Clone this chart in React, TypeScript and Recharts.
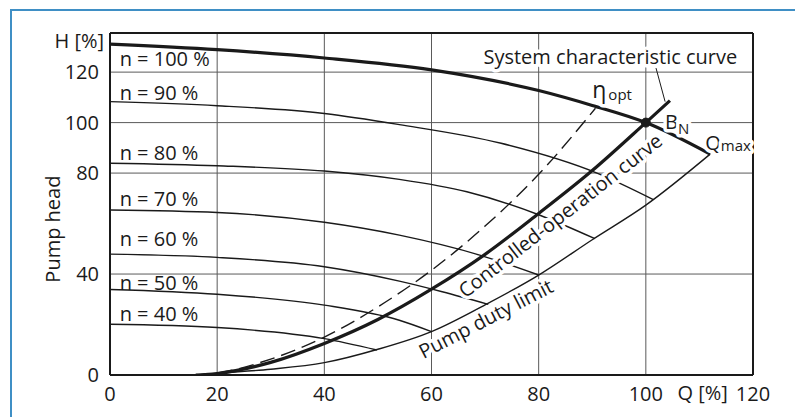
import React from 'react';
import {
  ComposedChart,
  Line,
  XAxis,
  YAxis,
  CartesianGrid,
  ReferenceDot,
  ReferenceLine,
} from 'recharts';

const FONT = '"Open Sans", "Noto Sans", sans-serif';
const INK = '#1a1a1a';
const FS = 20;

// Axis ticks
const xTicks = [0, 20, 40, 60, 80, 100, 120];
const yTicks = [0, 40, 80, 100, 120];

// Pump head curves at different speeds (Q %, H %)
const speed100 = [
  { x: 0, y: 131.1 }, { x: 20, y: 128.9 }, { x: 40, y: 125.6 }, { x: 60, y: 120.9 },
  { x: 80, y: 112.7 }, { x: 90, y: 106.8 }, { x: 100, y: 100 }, { x: 112, y: 87.5 },
];
const speed90 = [
  { x: 0, y: 108.3 }, { x: 20, y: 106.7 }, { x: 40, y: 103.6 }, { x: 54, y: 99.2 },
  { x: 73, y: 91.8 }, { x: 91, y: 79.9 }, { x: 101.4, y: 69.5 },
];
const speed80 = [
  { x: 0, y: 83.9 }, { x: 20, y: 82.9 }, { x: 40, y: 80.8 }, { x: 54, y: 77.5 },
  { x: 66.6, y: 72.6 }, { x: 80, y: 63.5 }, { x: 90.5, y: 54 },
];
const speed70 = [
  { x: 0, y: 65.4 }, { x: 20, y: 64.4 }, { x: 40, y: 60.5 }, { x: 54, y: 55.4 },
  { x: 69, y: 47.5 }, { x: 80, y: 39.6 },
];
const speed60 = [
  { x: 0, y: 47.9 }, { x: 20, y: 46.6 }, { x: 40, y: 42.9 }, { x: 54, y: 37.2 },
  { x: 62, y: 33 }, { x: 70.6, y: 28 },
];
const speed50 = [
  { x: 0, y: 33.9 }, { x: 20, y: 32 }, { x: 40, y: 27.7 }, { x: 54, y: 21.7 }, { x: 60, y: 17.2 },
];
const speed40 = [
  { x: 0, y: 20.1 }, { x: 20, y: 18.8 }, { x: 40, y: 14.4 }, { x: 49.8, y: 9.9 },
];

// Controlled-operation / system characteristic curve
const controlled = [
  { x: 16, y: 0 }, { x: 20, y: 0.6 }, { x: 30, y: 5 }, { x: 40, y: 12.5 }, { x: 50, y: 22 },
  { x: 60, y: 34 }, { x: 70, y: 47.8 }, { x: 80, y: 64 }, { x: 90, y: 81 }, { x: 100, y: 100 },
  { x: 104.5, y: 108.7 },
];
// Best efficiency (eta opt) curve
const etaOpt = [
  { x: 16, y: 0 }, { x: 20, y: 0.8 }, { x: 30, y: 6.3 }, { x: 40, y: 15 }, { x: 50, y: 27 },
  { x: 60, y: 41.5 }, { x: 70, y: 59 }, { x: 80, y: 79.5 }, { x: 90.6, y: 105.7 },
];
// Pump duty limit
const dutyLimit = [
  { x: 16, y: 0 }, { x: 20, y: 0.7 }, { x: 30, y: 2.3 }, { x: 40, y: 4.9 }, { x: 50, y: 10.2 },
  { x: 60, y: 17.2 }, { x: 70, y: 27.8 }, { x: 80, y: 39.6 }, { x: 90, y: 53.6 },
  { x: 100, y: 67.3 }, { x: 112, y: 87.5 },
];

const speedLabels = ['n = 100 %', 'n = 90 %', 'n = 80 %', 'n = 70 %', 'n = 60 %', 'n = 50 %', 'n = 40 %'];
const speedLabelY = [122.3, 108.9, 85.1, 66.9, 51, 33.8, 21.2];

const halo = { stroke: '#fff', strokeWidth: 7, paintOrder: 'stroke' as const, strokeLinejoin: 'round' as const };

function note(key: string, x: number, y: number, render: (cx: number, cy: number) => React.ReactNode) {
  return (
    <ReferenceDot
      key={key}
      x={x}
      y={y}
      r={1}
      ifOverflow="visible"
      shape={(p: any) => <g>{render(p.cx, p.cy)}</g>}
    />
  );
}

const thin = { stroke: INK, strokeWidth: 1.4, dot: false, isAnimationActive: false, type: 'monotone' as const };

export default function App() {
  return (
    <div style={{ position: 'absolute', left: 0, top: 0, width: 795, height: 417, background: '#fff' }}>
      <div
        style={{
          position: 'absolute',
          left: 10,
          top: 9,
          width: 785,
          height: 408,
          borderTop: '2px solid #3f8fc5',
          borderLeft: '2px solid #3f8fc5',
          boxSizing: 'border-box',
        }}
      />
      <div style={{ position: 'absolute', left: 0, top: 0 }}>
        <ComposedChart
          width={795}
          height={417}
          margin={{ top: 33, right: 42, bottom: 0, left: 0 }}
          style={{ fontFamily: FONT }}
        >
          <CartesianGrid stroke="#5a5a5a" strokeWidth={1} />
          <XAxis
            type="number"
            dataKey="x"
            domain={[0, 120]}
            ticks={xTicks}
            allowDataOverflow
            height={42}
            tickSize={0}
            tickMargin={12}
            axisLine={{ stroke: INK, strokeWidth: 2 }}
            tickLine={false}
            tick={{ fontSize: FS, fill: INK, fontFamily: FONT }}
          />
          <YAxis
            type="number"
            dataKey="y"
            domain={[0, 135.5]}
            ticks={yTicks}
            allowDataOverflow
            width={110}
            tickSize={0}
            tickMargin={11}
            axisLine={{ stroke: INK, strokeWidth: 2 }}
            tickLine={false}
            tick={{ fontSize: FS, fill: INK, fontFamily: FONT }}
          />
          <ReferenceLine y={135.5} stroke={INK} strokeWidth={2} ifOverflow="visible" />
          <ReferenceLine x={120} stroke={INK} strokeWidth={2} ifOverflow="visible" />

          <Line data={speed90} dataKey="y" {...thin} />
          <Line data={speed80} dataKey="y" {...thin} />
          <Line data={speed70} dataKey="y" {...thin} />
          <Line data={speed60} dataKey="y" {...thin} />
          <Line data={speed50} dataKey="y" {...thin} />
          <Line data={speed40} dataKey="y" {...thin} />
          <Line data={dutyLimit} dataKey="y" {...thin} />
          <Line data={etaOpt} dataKey="y" {...thin} strokeDasharray="15 7" />
          <Line data={controlled} dataKey="y" type="monotone" stroke={INK} strokeWidth={3.2} dot={false} isAnimationActive={false} />
          <Line data={speed100} dataKey="y" type="monotone" stroke={INK} strokeWidth={3.2} dot={false} isAnimationActive={false} />

          <ReferenceLine
            segment={[{ x: 101.9, y: 121.6 }, { x: 103.6, y: 108.3 }]}
            stroke={INK}
            strokeWidth={1}
            ifOverflow="visible"
          />
          <ReferenceDot x={100} y={100} r={4.5} fill={INK} stroke={INK} ifOverflow="visible" />

          {speedLabels.map((t, i) =>
            note('s' + i, 1.8, speedLabelY[i], (cx, cy) => (
              <text x={cx} y={cy} fontSize={FS} fontFamily={FONT} fill={INK}>{t}</text>
            ))
          )}
          {note('h', 0, 135.5, (cx, cy) => (
            <text x={cx - 6} y={cy + 14.5} fontSize={FS} fontFamily={FONT} fill={INK} textAnchor="end">H [%]</text>
          ))}
          {note('q', 110.6, 0, (cx, cy) => (
            <text x={cx} y={cy + 24.5} fontSize={FS} fontFamily={FONT} fill={INK} textAnchor="middle">Q [%]</text>
          ))}
          {note('ph', 0, 57.8, (cx, cy) => (
            <text
              x={cx - 57.7}
              y={cy}
              fontSize={FS}
              fontFamily={FONT}
              fill={INK}
              textAnchor="middle"
              dominantBaseline="central"
              transform={`rotate(-90 ${cx - 57.7} ${cy})`}
            >
              Pump head
            </text>
          ))}
          {note('sys', 69.7, 123.3, (cx, cy) => (
            <text x={cx} y={cy} fontSize={FS} fontFamily={FONT} fill={INK} {...halo}>System characteristic curve</text>
          ))}
          {note('eta', 90, 109.8, (cx, cy) => (
            <text x={cx} y={cy} fontFamily={FONT} fill={INK} {...halo}>
              <tspan fontSize={23}>η</tspan>
              <tspan fontSize={15} dx={2} dy={2}>opt</tspan>
            </text>
          ))}
          {note('bn', 103.6, 97.3, (cx, cy) => (
            <text x={cx} y={cy} fontFamily={FONT} fill={INK} {...halo}>
              <tspan fontSize={FS}>B</tspan>
              <tspan fontSize={15} dy={5}>N</tspan>
            </text>
          ))}
          {note('qm', 111.1, 89.2, (cx, cy) => (
            <text x={cx} y={cy} fontFamily={FONT} fill={INK} {...halo}>
              <tspan fontSize={FS}>Q</tspan>
              <tspan fontSize={15} dy={1}>max</tspan>
            </text>
          ))}
          {note('co', 84, 63.3, (cx, cy) => (
            <text
              x={cx}
              y={cy}
              fontSize={FS}
              fontFamily={FONT}
              fill={INK}
              textAnchor="middle"
              dominantBaseline="central"
              transform={`rotate(-38 ${cx} ${cy})`}
              {...halo}
            >
              Controlled-operation curve
            </text>
          ))}
          {note('pd', 70.1, 22.4, (cx, cy) => (
            <text
              x={cx}
              y={cy}
              fontSize={FS}
              fontFamily={FONT}
              fill={INK}
              textAnchor="middle"
              dominantBaseline="central"
              transform={`rotate(-27.4 ${cx} ${cy})`}
              {...halo}
            >
              Pump duty limit
            </text>
          ))}
        </ComposedChart>
      </div>
    </div>
  );
}
